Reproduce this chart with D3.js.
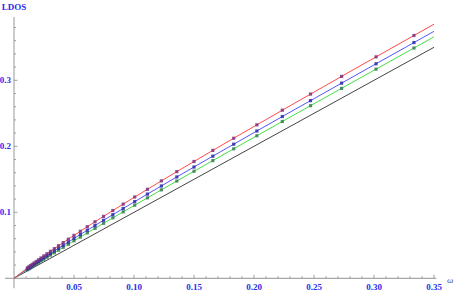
<!DOCTYPE html>
<html><head><meta charset="utf-8">
<script src="https://cdn.jsdelivr.net/npm/d3@7"></script>
<style>body{margin:0;background:#fff}svg{display:block}</style>
</head><body>
<svg id="c" width="457" height="292"></svg>
<script>
const omega = [0.3333,0.3017,0.2730,0.2471,0.2236,0.2024,0.1831,0.1657,0.1500,0.1357,0.1228,0.1112,0.1006,0.0910,0.0824,0.0746,0.0675,0.0611,0.0553,0.0500,0.0453,0.0410,0.0371,0.0336,0.0304,0.0275,0.0249,0.0225,0.0204,0.0185,0.0167,0.0151,0.0137,0.0124,0.0112];
const redVals = [0.3679,0.3355,0.3059,0.2791,0.2547,0.2325,0.2122,0.1938,0.1770,0.1616,0.1476,0.1349,0.1232,0.1124,0.1027,0.0938,0.0856,0.0782,0.0713,0.0650,0.0593,0.0541,0.0493,0.0449,0.0409,0.0372,0.0339,0.0308,0.0280,0.0255,0.0231,0.0210,0.0191,0.0174,0.0157];
const blueVals = [0.3572,0.3250,0.2957,0.2692,0.2451,0.2232,0.2032,0.1851,0.1686,0.1536,0.1399,0.1276,0.1162,0.1058,0.0964,0.0879,0.0800,0.0729,0.0664,0.0604,0.0550,0.0500,0.0455,0.0414,0.0376,0.0342,0.0311,0.0282,0.0257,0.0234,0.0211,0.0192,0.0174,0.0158,0.0143];
const greenVals = [0.3489,0.3169,0.2878,0.2615,0.2376,0.2160,0.1962,0.1783,0.1622,0.1474,0.1340,0.1219,0.1108,0.1007,0.0916,0.0833,0.0757,0.0688,0.0625,0.0568,0.0516,0.0469,0.0426,0.0387,0.0351,0.0319,0.0289,0.0262,0.0238,0.0217,0.0196,0.0178,0.0161,0.0146,0.0132];
const lineOmegaEnd = 0.35;
const lineEnds = {red:0.385, blue:0.3742, green:0.3658, black:0.35};
const xTicks = [0.05,0.10,0.15,0.20,0.25,0.30,0.35];
const xTickLabels = ["0.05","0.10","0.15","0.20","0.25","0.30","0.35"];
const yTicks = [0.1,0.2,0.3];
const yTickLabels = ["0.1","0.2","0.3"];

const svg = d3.select("#c");
const x = d3.scaleLinear().domain([0,0.35]).range([14,434]);
const y = d3.scaleLinear().domain([0,0.3]).range([278.3,80.3]);
const axisCol = "#a8a8a8", labCol = "#2a2aee";

// axes
svg.append("line").attr("x1",x(-0.0075)).attr("x2",x(0.352)).attr("y1",y(0)).attr("y2",y(0)).attr("stroke",axisCol).attr("stroke-width",1.2);
svg.append("line").attr("x1",x(0)).attr("x2",x(0)).attr("y1",y(-0.015)).attr("y2",y(0.396)).attr("stroke",axisCol).attr("stroke-width",1.2);

// x ticks
const xMinor = d3.range(1,36).map(i=>i/100);
svg.append("g").selectAll("line").data(xMinor).join("line")
  .attr("x1",d=>x(d)).attr("x2",d=>x(d))
  .attr("y1",y(0)).attr("y2",d=>y(0)-(Math.abs(d*20-Math.round(d*20))<1e-6?3.5:2))
  .attr("stroke","#888").attr("stroke-width",0.8);
const yMinor = d3.range(1,20).map(i=>i/50);
svg.append("g").selectAll("line").data(yMinor).join("line")
  .attr("y1",d=>y(d)).attr("y2",d=>y(d))
  .attr("x1",x(0)).attr("x2",d=>x(0)+(Math.abs(d*10-Math.round(d*10))<1e-6?3.5:2))
  .attr("stroke","#888").attr("stroke-width",0.8);

const fontF = "'Liberation Serif','Times New Roman',serif";
svg.append("g").selectAll("text").data(xTicks).join("text")
  .attr("x",d=>x(d)).attr("y",290).attr("text-anchor","middle")
  .attr("font-family",fontF).attr("font-weight","bold").attr("font-size",9).attr("fill",labCol)
  .text((d,i)=>xTickLabels[i]);
svg.append("g").selectAll("text").data(yTicks).join("text")
  .attr("x",11).attr("y",d=>y(d)+3).attr("text-anchor","end")
  .attr("font-family",fontF).attr("font-weight","bold").attr("font-size",9).attr("fill",labCol)
  .text((d,i)=>yTickLabels[i]);
svg.append("text").attr("x",14).attr("y",10).attr("text-anchor","middle")
  .attr("font-family",fontF).attr("font-weight","bold").attr("font-size",9).attr("fill",labCol).text("LDOS");
svg.append("text").attr("x",447).attr("y",283)
  .attr("font-family",fontF).attr("font-style","italic").attr("font-size",9).attr("fill","#4a4ab0").text("ω");

// lines
const line = d3.line().x(d=>x(d[0])).y(d=>y(d[1])).curve(d3.curveMonotoneX);
function lineData(vals,end){
  const pts = omega.map((w,i)=>[w,vals[i]]).reverse();
  return [[0,0],...pts,[lineOmegaEnd,end]];
}
svg.append("path").datum([[0,0],[lineOmegaEnd,lineEnds.black]]).attr("d",line).attr("fill","none").attr("stroke","#444").attr("stroke-width",1);
const series = [
  {vals:greenVals,end:lineEnds.green,lc:"#44e044",pc:"#3a7a55"},
  {vals:blueVals,end:lineEnds.blue,lc:"#5555ff",pc:"#2a2aa8"},
  {vals:redVals,end:lineEnds.red,lc:"#ff4a4a",pc:"#7a3080"}
];
series.forEach(s=>{
  svg.append("path").datum(lineData(s.vals,s.end)).attr("d",line).attr("fill","none").attr("stroke",s.lc).attr("stroke-width",1);
});
series.forEach(s=>{
  svg.append("g").selectAll("rect").data(omega).join("rect")
    .attr("x",(d)=>x(d)-1.6).attr("y",(d,i)=>y(s.vals[i])-1.6).attr("width",3.2).attr("height",3.2)
    .attr("fill",s.pc).attr("opacity",0.85);
});
</script>
</body></html>
